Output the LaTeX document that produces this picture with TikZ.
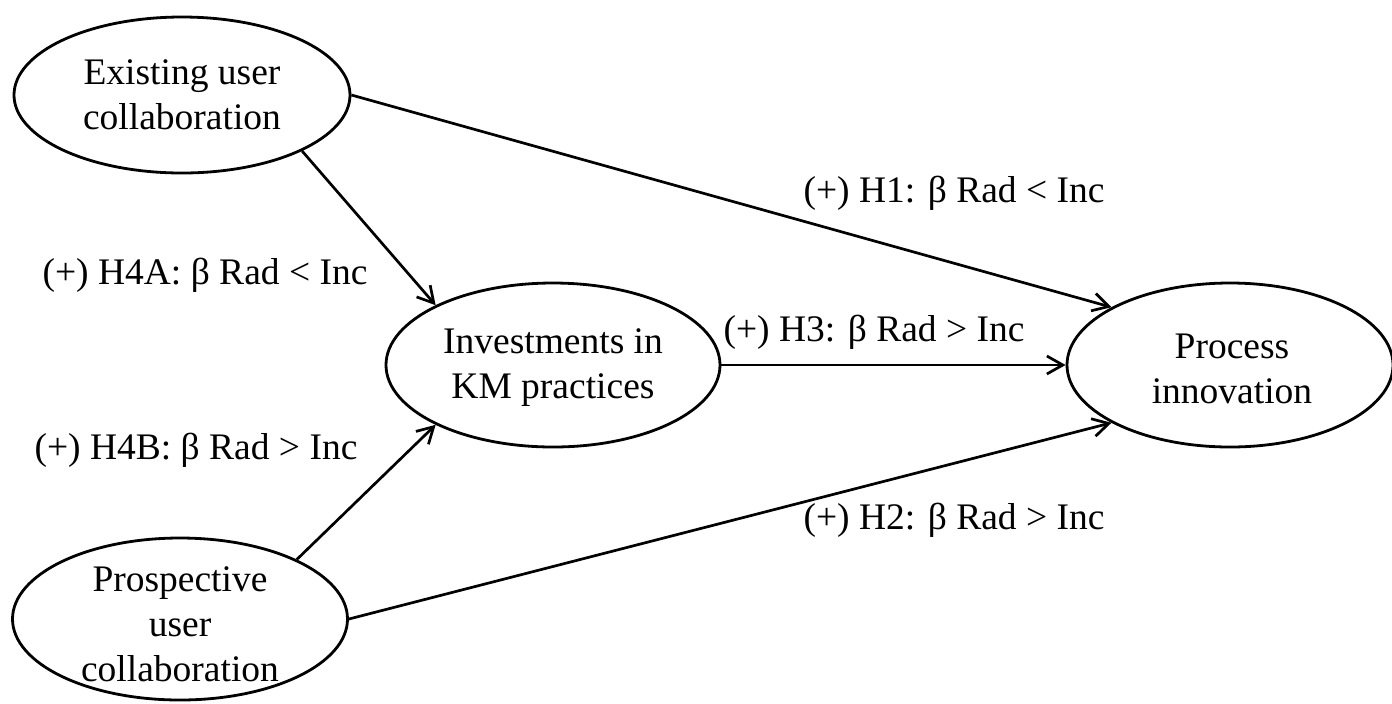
\documentclass[tikz,border=0pt]{standalone}
\usepackage{fontspec}
\setmainfont{Liberation Serif}
\usetikzlibrary{shapes.geometric,arrows.meta}
\begin{document}
\begin{tikzpicture}[x=0.5pt,y=-0.5pt,
  oval/.style={ellipse, draw, line width=1.4pt, inner sep=0pt},
  txt/.style={align=center, font=\fontsize{18.75}{22.5}\selectfont, inner sep=0pt},
  lbl/.style={font=\fontsize{18.75}{22.5}\selectfont, inner sep=0pt},
  link/.style={line width=1.35pt, -{Straight Barb[length=8pt,width=9pt]}}]
\useasboundingbox (0,0) rectangle (1392,703);
% ellipses
\node[oval, minimum width=168pt, minimum height=78pt] (ex) at (182,95) {};
\node[oval, minimum width=167pt, minimum height=82pt] (inv) at (553,365) {};
\node[oval, minimum width=163pt, minimum height=82pt] (pi) at (1230,365) {};
\node[oval, minimum width=167.5pt, minimum height=81pt] (pr) at (180,619) {};
% texts
\node[txt] (ext) at (182,95) {Existing user\\collaboration};
\node[txt] (invt) at (553,368) {Investments in\\KM practices};
\node[txt] (pit) at (1232,369) {Process\\innovation};
\node[txt] (prt) at (180,624) {Prospective\\user\\collaboration};
% connectors
\draw[link] (ex.east) -- (pi.154);
\draw[link] (pr.east) -- (pi.206);
\draw[link] (inv.east) -- (pi.west);
\draw[link] (ex.-25) -- (inv.153);
\draw[link] (pr.27) -- (inv.207);
% labels
\node[lbl] (h1) at (954,193) {(+) H1: β Rad < Inc};
\node[lbl] (h2) at (954,520) {(+) H2: β Rad > Inc};
\node[lbl] (h3) at (874,332) {(+) H3: β Rad > Inc};
\node[lbl] (h4a) at (205,275) {(+) H4A: β Rad < Inc};
\node[lbl] (h4b) at (196,450) {(+) H4B: β Rad > Inc};
\end{tikzpicture}
\end{document}
